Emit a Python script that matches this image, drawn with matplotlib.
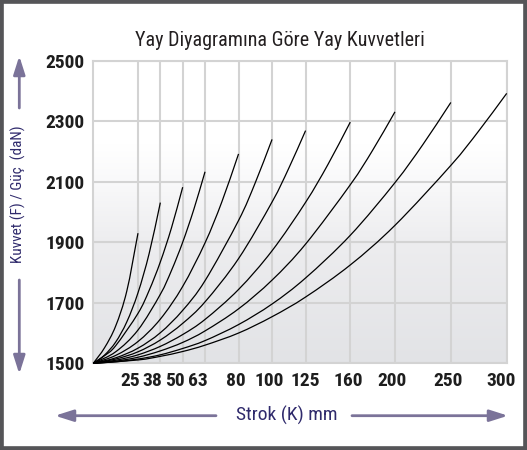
import numpy as np
import matplotlib
matplotlib.use('Agg')
import matplotlib.pyplot as plt
from matplotlib.patches import Rectangle, FancyArrowPatch, PathPatch
from matplotlib.path import Path
from matplotlib.transforms import ScaledTranslation

plt.rcParams['font.family'] = ['Liberation Sans Narrow', 'Roboto Condensed', 'DejaVu Sans Condensed',
                               'Roboto', 'DejaVu Sans']

# x axis is not linear: each stroke sits on its own slot
stroke_ticks = [0, 25, 38, 50, 63, 80, 100, 125, 160, 200, 250, 300]
tick_slots = [0, 2, 3, 4, 5, 6.5, 8, 9.5, 11.5, 13.5, 16, 18.5]
force_ticks = [1500, 1700, 1900, 2100, 2300, 2500]

# one curve per stroke, force (daN)
s_25 = [0, 6.25, 12.5, 18.75, 25]
f_25 = [1500, 1551, 1623, 1739, 1930]
s_38 = [0, 6.25, 12.5, 18.75, 25, 31.5, 38]
f_38 = [1500, 1527, 1570, 1637, 1733, 1863, 2031]
s_50 = [0, 6.25, 12.5, 25, 31.5, 38, 44, 50]
f_50 = [1500, 1525, 1558, 1665, 1741, 1835, 1948, 2082]
s_63 = [0, 12.5, 25, 38, 44, 50, 56.5, 63]
f_63 = [1500, 1538, 1610, 1728, 1807, 1900, 2009, 2133]
s_80 = [0, 12.5, 25, 38, 50, 63, 71.5, 80]
f_80 = [1500, 1526, 1572, 1646, 1754, 1898, 2033, 2192]
s_100 = [0, 12.5, 25, 38, 50, 63, 80, 90, 100]
f_100 = [1500, 1518, 1550, 1601, 1675, 1773, 1972, 2097, 2240]
s_125 = [0, 12.5, 25, 38, 50, 63, 80, 100, 112.5, 125]
f_125 = [1500, 1514, 1538, 1577, 1632, 1703, 1846, 2033, 2145, 2269]
s_160 = [0, 12.5, 25, 38, 50, 63, 80, 100, 125, 142.5, 160]
f_160 = [1500, 1510, 1528, 1556, 1595, 1645, 1744, 1872, 2032, 2157, 2297]
s_200 = [0, 12.5, 25, 38, 50, 63, 80, 100, 125, 160, 180, 200]
f_200 = [1500, 1507, 1520, 1541, 1569, 1607, 1680, 1775, 1894, 2090, 2204, 2331]
s_250 = [0, 12.5, 25, 38, 50, 63, 80, 100, 125, 160, 200, 225, 250]
f_250 = [1500, 1505, 1514, 1528, 1549, 1575, 1628, 1696, 1782, 1923, 2097, 2223, 2362]
s_300 = [0, 25, 38, 50, 63, 80, 100, 125, 160, 200, 250, 275, 300]
f_300 = [1500, 1511, 1523, 1539, 1560, 1600, 1654, 1719, 1825, 1956, 2154, 2268, 2392]

curves = [(s_25, f_25), (s_38, f_38), (s_50, f_50), (s_63, f_63), (s_80, f_80),
          (s_100, f_100), (s_125, f_125), (s_160, f_160), (s_200, f_200),
          (s_250, f_250), (s_300, f_300)]

# label nudges in pixels (labels sit a bit left of their grid lines)
label_shift = [-8, -8, -8, -7, -3, -3, 0, -2.5, -2.5, -3, -6]

txt_col = '#2f2a6c'
arr_col = '#7b7399'

def fwd(x):
    return np.interp(x, stroke_ticks, tick_slots)

def inv(p):
    return np.interp(p, tick_slots, stroke_ticks)

def smooth_path(xs, ys):
    # catmull-rom through the read points, worked out in slot space
    p = np.column_stack([fwd(np.asarray(xs, float)), np.asarray(ys, float)])
    n = len(p)
    m = np.zeros_like(p)
    m[0] = p[1] - p[0]
    m[-1] = p[-1] - p[-2]
    for i in range(1, n - 1):
        m[i] = (p[i + 1] - p[i - 1]) / 2
    verts = [p[0]]
    codes = [Path.MOVETO]
    for i in range(n - 1):
        verts += [p[i] + m[i] / 3, p[i + 1] - m[i + 1] / 3, p[i + 1]]
        codes += [Path.CURVE4] * 3
    verts = np.array(verts)
    verts[:, 0] = inv(verts[:, 0])
    return Path(verts, codes)

W, H = 527, 450
fig = plt.figure(figsize=(W / 100, H / 100), dpi=100)
fig.patch.set_facecolor('white')

ax = fig.add_axes([93.3 / W, 1 - 363.3 / H, (506.7 - 93.3) / W, (363.3 - 60.7) / H])
ax.set_xscale('function', functions=(fwd, inv))
ax.set_xlim(0, 300)
ax.set_ylim(1500, 2500)

# soft gray gradient behind the grid
yy = np.linspace(0, 1, 200)
stops = [0, 0.4, 0.6, 0.72, 1]
r = np.interp(yy, stops, [226, 237, 249, 255, 255])
g = np.interp(yy, stops, [227, 237, 249, 255, 255])
b = np.interp(yy, stops, [230, 239, 250, 255, 255])
grad = np.stack([r, g, b], axis=1)[::-1, None, :] / 255.0
ax.imshow(grad, extent=[0, 1, 0, 1], transform=ax.transAxes, aspect='auto', zorder=0)

ax.set_xticks(stroke_ticks[1:])
ax.set_xticklabels([str(s) for s in stroke_ticks[1:]])
ax.set_yticks(force_ticks)
ax.set_yticklabels([str(f) for f in force_ticks])
ax.grid(True, color='#d3d3d3', lw=1.5, zorder=1)
ax.tick_params(length=0, labelsize=14, pad=6, colors='#1e1e1e')
ax.tick_params(axis='x', pad=6)
for lbl in ax.get_xticklabels() + ax.get_yticklabels():
    lbl.set_fontweight('bold')
for lbl, dx in zip(ax.get_xticklabels(), label_shift):
    lbl.set_transform(lbl.get_transform() + ScaledTranslation(dx / 100, 0, fig.dpi_scale_trans))
for sp in ax.spines.values():
    sp.set_color('#d3d3d3')
    sp.set_linewidth(1.5)

for s, f in curves:
    ax.add_patch(PathPatch(smooth_path(s, f), fill=False, ec='black', lw=0.9,
                           zorder=3, clip_on=False))

fig.text(280 / W, 1 - 41 / H, 'Yay Diyagramına Göre Yay Kuvvetleri',
         ha='center', va='center', fontsize=14.5, color='#231f20')
fig.text(18 / W, 1 - 194 / H, 'Kuvvet (F) / Güç  (daN)', rotation=90,
         ha='center', va='center', fontsize=11, color=txt_col)
fig.text(287 / W, 1 - 415 / H, 'Strok (K) mm',
         ha='center', va='center', fontsize=14, color=txt_col)

def arrow(x0, y0, x1, y1):
    a = FancyArrowPatch((x0 / W, 1 - y0 / H), (x1 / W, 1 - y1 / H),
                        transform=fig.transFigure, arrowstyle='-|>,head_length=11,head_width=3.5',
                        mutation_scale=1, color=arr_col, lw=2, shrinkA=0, shrinkB=0)
    fig.add_artist(a)

arrow(19.3, 108, 19.3, 56)
arrow(19.3, 280, 19.3, 374)
arrow(216, 415.7, 55, 415.7)
arrow(352, 415.7, 508, 415.7)

fig.add_artist(Rectangle((0, 0), 1, 1, transform=fig.transFigure, fill=False,
                         ec='#555558', lw=5.5))

fig.savefig('out.png', dpi=100)
